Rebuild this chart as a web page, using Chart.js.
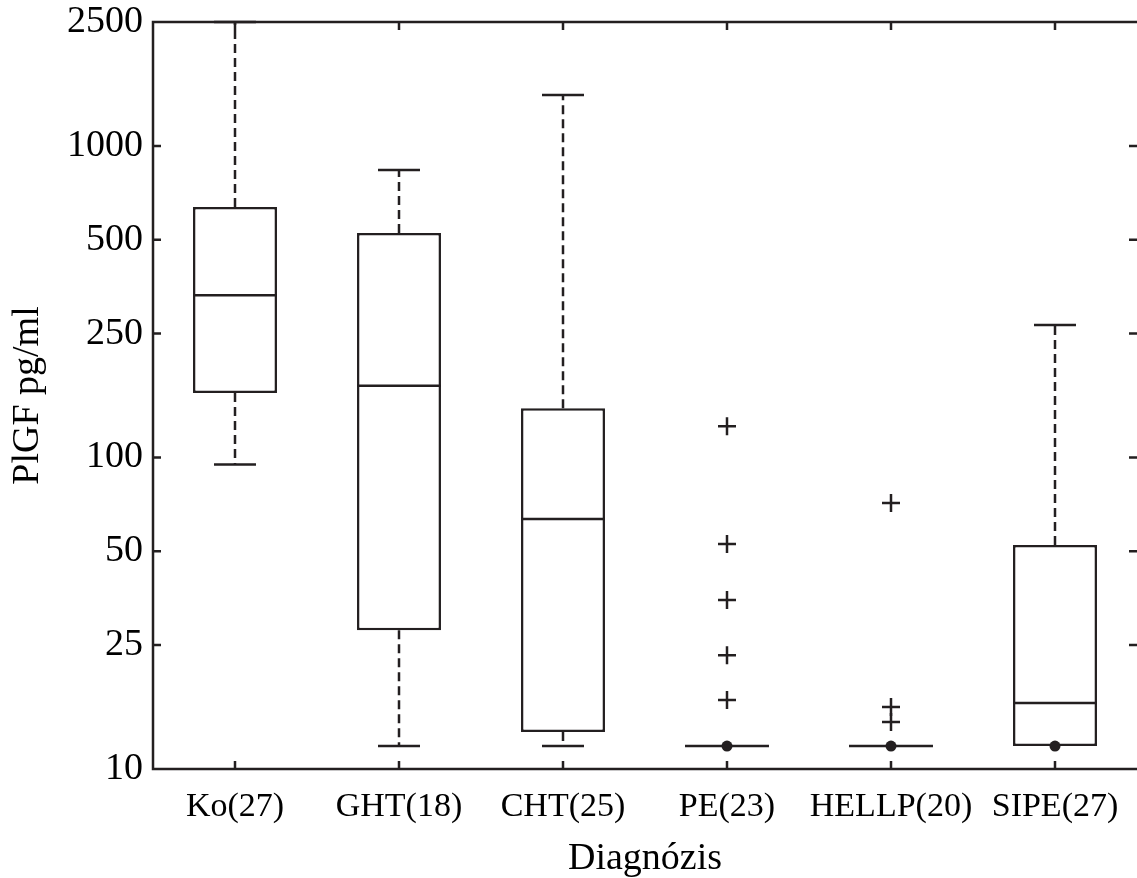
<!DOCTYPE html>
<html>
<head>
<meta charset="utf-8">
<script src="https://cdn.jsdelivr.net/npm/chart.js@4"></script>
<style>
  html, body { margin: 0; padding: 0; background: #fff; }
  #wrap { width: 1137px; height: 878px; }
</style>
</head>
<body>
<div id="wrap"><canvas id="plgfChart" width="1137" height="878"></canvas></div>
<script>
    // categories and box statistics (PlGF pg/ml)
    const categories = ['Ko(27)', 'GHT(18)', 'CHT(25)', 'PE(23)', 'HELLP(20)', 'SIPE(27)'];
    const whiskerLow = [95, 11.85, 11.85, 11.85, 11.85, 11.85];
    const q1 = [161, 27.9, 13.15, 11.85, 11.85, 11.85];
    const median = [332, 170, 63.5, 11.85, 11.85, 16.3];
    const q3 = [637, 526, 144, 11.85, 11.85, 52.4];
    const whiskerHigh = [2500, 837, 1458, 11.85, 11.85, 266];
    // outliers: [category index, value]
    const outliers = [
        [3, 126], [3, 52.8], [3, 34.9], [3, 23.2], [3, 16.65],
        [4, 71.4], [4, 15.8], [4, 14.15]
    ];
    // filled dots sitting on the lower edge
    const dots = [[3, 11.85], [4, 11.85], [5, 11.85]];
    const yTicks = [10, 25, 50, 100, 250, 500, 1000, 2500];

    const ink = '#231f20';
    const serif = "'Liberation Serif', 'DejaVu Serif', serif";
    const lw = 2.5;

    // whiskers, caps, medians and inward axis frame
    const boxPlugin = {
        id: 'boxParts',
        afterDatasetsDraw(chart) {
            const ctx = chart.ctx;
            const x = chart.scales.x;
            const y = chart.scales.y;
            const meta = chart.getDatasetMeta(0);
            ctx.save();
            ctx.strokeStyle = ink;
            ctx.lineWidth = lw;
            categories.forEach((c, i) => {
                const cx = x.getPixelForValue(i);
                const bar = meta.data[i];
                const half = bar.width / 2;
                const capHalf = half / 2;
                const yq1 = y.getPixelForValue(q1[i]);
                const yq3 = y.getPixelForValue(q3[i]);
                const yLo = y.getPixelForValue(whiskerLow[i]);
                const yHi = y.getPixelForValue(whiskerHigh[i]);
                // dashed whiskers
                ctx.setLineDash([9, 5]);
                ctx.beginPath();
                if (yHi < yq3) { ctx.moveTo(cx, yq3); ctx.lineTo(cx, yHi); }
                if (yLo > yq1) { ctx.moveTo(cx, yq1); ctx.lineTo(cx, yLo); }
                ctx.stroke();
                ctx.setLineDash([]);
                // caps
                ctx.beginPath();
                if (yHi < yq3) { ctx.moveTo(cx - capHalf, yHi); ctx.lineTo(cx + capHalf, yHi); }
                if (yLo > yq1) { ctx.moveTo(cx - capHalf, yLo); ctx.lineTo(cx + capHalf, yLo); }
                // median
                const ym = y.getPixelForValue(median[i]);
                ctx.moveTo(cx - half, ym);
                ctx.lineTo(cx + half, ym);
                ctx.stroke();
            });
            ctx.restore();
        },
        afterDraw(chart) {
            const ctx = chart.ctx;
            const a = chart.chartArea;
            const x = chart.scales.x;
            const y = chart.scales.y;
            const tl = 8;
            ctx.save();
            ctx.strokeStyle = ink;
            ctx.lineWidth = lw;
            ctx.beginPath();
            // left, bottom and top edges (right edge falls off the page)
            ctx.moveTo(a.right, a.top);
            ctx.lineTo(a.left, a.top);
            ctx.lineTo(a.left, a.bottom);
            ctx.lineTo(a.right, a.bottom);
            yTicks.forEach(v => {
                const py = y.getPixelForValue(v);
                ctx.moveTo(a.left, py); ctx.lineTo(a.left + tl, py);
                ctx.moveTo(a.right, py); ctx.lineTo(a.right - tl, py);
            });
            categories.forEach((c, i) => {
                const px = x.getPixelForValue(i);
                ctx.moveTo(px, a.bottom); ctx.lineTo(px, a.bottom - tl);
                ctx.moveTo(px, a.top); ctx.lineTo(px, a.top + tl);
            });
            ctx.stroke();
            ctx.restore();
        }
    };

    const ctx = document.getElementById('plgfChart');
    new Chart(ctx, {
        type: 'bar',
        data: {
            labels: categories,
            datasets: [
                {
                    label: 'box',
                    data: categories.map((c, i) => [q1[i], q3[i]]),
                    backgroundColor: '#ffffff',
                    borderColor: ink,
                    borderWidth: lw,
                    borderSkipped: false,
                    categoryPercentage: 1,
                    barPercentage: 0.512,
                    order: 3
                },
                {
                    type: 'line',
                    label: 'outliers',
                    data: outliers.map(o => ({ x: categories[o[0]], y: o[1] })),
                    showLine: false,
                    pointStyle: 'cross',
                    pointRadius: 9,
                    pointBorderWidth: lw,
                    borderColor: ink,
                    backgroundColor: ink,
                    order: 1
                },
                {
                    type: 'line',
                    label: 'dots',
                    data: dots.map(d => ({ x: categories[d[0]], y: d[1] })),
                    showLine: false,
                    pointStyle: 'circle',
                    pointRadius: 5.5,
                    pointBorderWidth: 0,
                    borderColor: ink,
                    backgroundColor: ink,
                    order: 0
                }
            ]
        },
        options: {
            responsive: false,
            animation: false,
            layout: { autoPadding: false, padding: { top: 22, right: 0, left: 0, bottom: 0 } },
            plugins: {
                legend: { display: false },
                tooltip: { enabled: false }
            },
            scales: {
                x: {
                    grid: { display: false, drawTicks: false },
                    border: { display: false },
                    ticks: {
                        color: '#000',
                        padding: 18,
                        maxRotation: 0,
                        autoSkip: false,
                        font: { family: serif, size: 34 }
                    },
                    title: {
                        display: true,
                        text: 'Diagnózis',
                        color: '#000',
                        font: { family: serif, size: 38, lineHeight: 1.0 },
                        padding: { top: 0, bottom: 0 }
                    },
                    afterFit: (scale) => {
                        scale.height = 109;
                        scale.paddingLeft = 0;
                        scale.paddingRight = 0;
                    }
                },
                y: {
                    type: 'logarithmic',
                    min: 10,
                    max: 2500,
                    grid: { display: false, drawTicks: false },
                    border: { display: false },
                    afterBuildTicks: (scale) => {
                        scale.ticks = yTicks.map(v => ({ value: v }));
                    },
                    ticks: {
                        color: '#000',
                        padding: 10,
                        font: { family: serif, size: 38 },
                        callback: (val) => String(val)
                    },
                    title: {
                        display: true,
                        text: 'PlGF pg/ml',
                        color: '#000',
                        font: { family: serif, size: 38 },
                        padding: { top: 5, bottom: 0 }
                    },
                    afterFit: (scale) => {
                        scale.width = 153;
                        scale.paddingTop = 0;
                        scale.paddingBottom = 0;
                    }
                }
            }
        },
        plugins: [boxPlugin]
    });
</script>
</body>
</html>
